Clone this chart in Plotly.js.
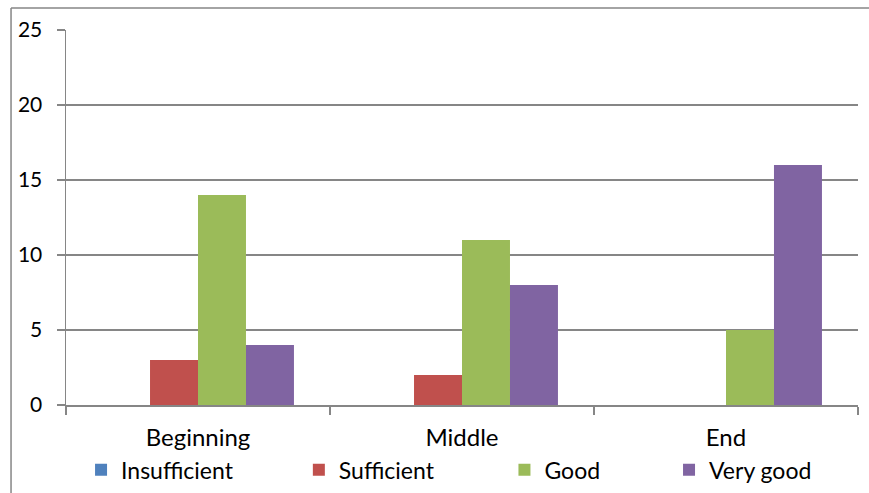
<!DOCTYPE html>
<html>
<head>
<meta charset="utf-8">
<script src="https://cdn.plot.ly/plotly-3.0.1.min.js"></script>
<style>html,body{margin:0;padding:0;background:#fff;}#chart{width:869px;height:493px;}</style>
</head>
<body>
<div id="chart"></div>
<script>
const categories = ['Beginning', 'Middle', 'End'];
const seriesNames = ['Insufficient', 'Sufficient', 'Good', 'Very good'];
const insufficient = [0, 0, 0];
const sufficient = [3, 2, 0];
const good = [14, 11, 5];
const veryGood = [4, 8, 16];
const yTicks = [0, 5, 10, 15, 20, 25];

const colors = ['#4F81BD', '#C0504D', '#9BBB59', '#8064A2'];
const values = [insufficient, sufficient, good, veryGood];
const legendIds = ['legend', 'legend2', 'legend3', 'legend4'];
const legendX = [0.019, 0.294, 0.5536, 0.7614];

const font = 'Lato, "Open Sans", sans-serif';

const traces = values.map((v, i) => ({
  type: 'bar',
  name: seriesNames[i],
  x: categories,
  y: v,
  marker: {color: colors[i]},
  legend: legendIds[i],
  showlegend: true,
  hoverinfo: 'x+y+name'
}));

const layout = {
  width: 869,
  height: 493,
  margin: {l: 66, r: 11, t: 30, b: 88, autoexpand: false},
  showlegend: true,
  paper_bgcolor: '#fff',
  plot_bgcolor: '#fff',
  barmode: 'group',
  bargap: 0.273,
  bargroupgap: 0,
  font: {family: font, size: 20, color: '#000'},
  xaxis: {
    type: 'category',
    tickson: 'boundaries',
    ticks: 'outside',
    ticklen: 8,
    tickcolor: '#868686',
    tickwidth: 1.5,
    showline: true,
    linecolor: '#868686',
    linewidth: 1.5,
    showgrid: false,
    automargin: false,
    tickfont: {family: font, size: 24, color: '#000'},
    ticklabelstandoff: 11
  },
  yaxis: {
    range: [0, 25],
    tickvals: yTicks,
    ticktext: yTicks.map(String),
    ticks: 'outside',
    ticklen: 8,
    tickcolor: '#868686',
    tickwidth: 1.5,
    showline: true,
    linecolor: '#868686',
    linewidth: 1.5,
    showgrid: true,
    gridcolor: '#868686',
    gridwidth: 1.5,
    zeroline: false,
    automargin: false,
    tickfont: {family: font, size: 21, color: '#000'},
    ticklabelstandoff: 10
  },
  shapes: [
    {type: 'line', xref: 'paper', yref: 'paper', x0: -0.0694, x1: -0.0694, y0: -0.4, y1: 1.0587,
     line: {color: '#868686', width: 1.5}},
    {type: 'line', xref: 'paper', yref: 'paper', x0: -0.0694, x1: 1.1, y0: 1.0587, y1: 1.0587,
     line: {color: '#868686', width: 1.5}}
  ]
};

legendIds.forEach((id, i) => {
  layout[id] = {
    visible: true,
    x: legendX[i],
    xanchor: 'left',
    xref: 'paper',
    y: 0.047,
    yref: 'container',
    yanchor: 'middle',
    orientation: 'h',
    bgcolor: 'rgba(0,0,0,0)',
    font: {family: font, size: 23, color: '#000'}
  };
});

Plotly.newPlot('chart', traces, layout, {displayModeBar: false, staticPlot: true});
</script>
</body>
</html>
